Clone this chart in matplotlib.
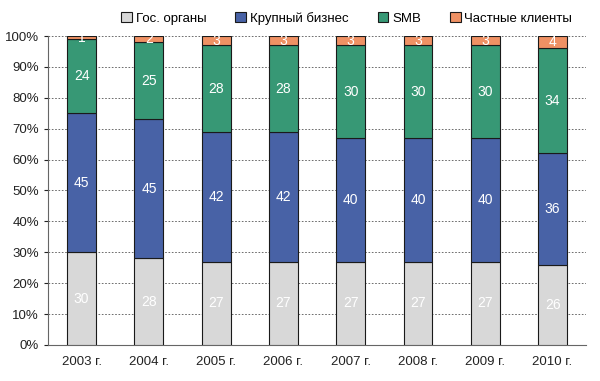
import matplotlib
matplotlib.use("Agg")
import matplotlib.pyplot as plt
from matplotlib.ticker import PercentFormatter, MultipleLocator
import numpy as np

years = ["2003 г.", "2004 г.", "2005 г.", "2006 г.", "2007 г.", "2008 г.", "2009 г.", "2010 г."]
series_names = ["Гос. органы", "Крупный бизнес", "SMB", "Частные клиенты"]
gov = [30, 28, 27, 27, 27, 27, 27, 26]
big = [45, 45, 42, 42, 40, 40, 40, 36]
smb = [24, 25, 28, 28, 30, 30, 30, 34]
private = [1, 2, 3, 3, 3, 3, 3, 4]
colors = ["#d8d8d8", "#4862a6", "#379875", "#ef9164"]

plt.rcParams['font.family'] = ['Liberation Sans', 'DejaVu Sans']
fig = plt.figure(figsize=(6.0, 3.81), dpi=100)
ax = fig.add_axes([0.08, 0.0945, 0.897, 0.811])

x = np.arange(len(years))
bottom = np.zeros(len(years))
handles = []
for name, vals, c in zip(series_names, [gov, big, smb, private], colors):
    vals = np.array(vals, dtype=float)
    b = ax.bar(x, vals, 0.43, bottom=bottom, color=c, edgecolor="#1a1a1a", linewidth=0.8, label=name, zorder=3)
    handles.append(b)
    for xi, v, bt in zip(x, vals, bottom):
        ax.text(xi, bt + v / 2, f"{int(v)}", ha="center", va="center", color="white", fontsize=10, zorder=4)
    bottom += vals

ax.set_xlim(-0.5, len(years) - 0.5)
ax.set_ylim(0, 100)
ax.yaxis.set_major_locator(MultipleLocator(10))
ax.yaxis.set_major_formatter(PercentFormatter(decimals=0))
ax.set_xticks(x)
ax.set_xticklabels(years)
ax.tick_params(axis="both", labelsize=9.5, colors="#222222", length=3)
ax.tick_params(axis="x", length=0, pad=8)
ax.grid(axis="y", color="#555555", linestyle=(0, (2, 2)), linewidth=0.6, zorder=0)
for s in ["top", "right"]:
    ax.spines[s].set_visible(False)
ax.spines["left"].set_color("#666666")
ax.spines["bottom"].set_color("#666666")

fig.legend(handles=handles, loc="center", bbox_to_anchor=(0.578, 0.952), ncol=4, frameon=False,
           fontsize=9.5, handlelength=0.8, handleheight=0.8, handletextpad=0.3, columnspacing=2.2)

fig.savefig("out.png", dpi=100)
